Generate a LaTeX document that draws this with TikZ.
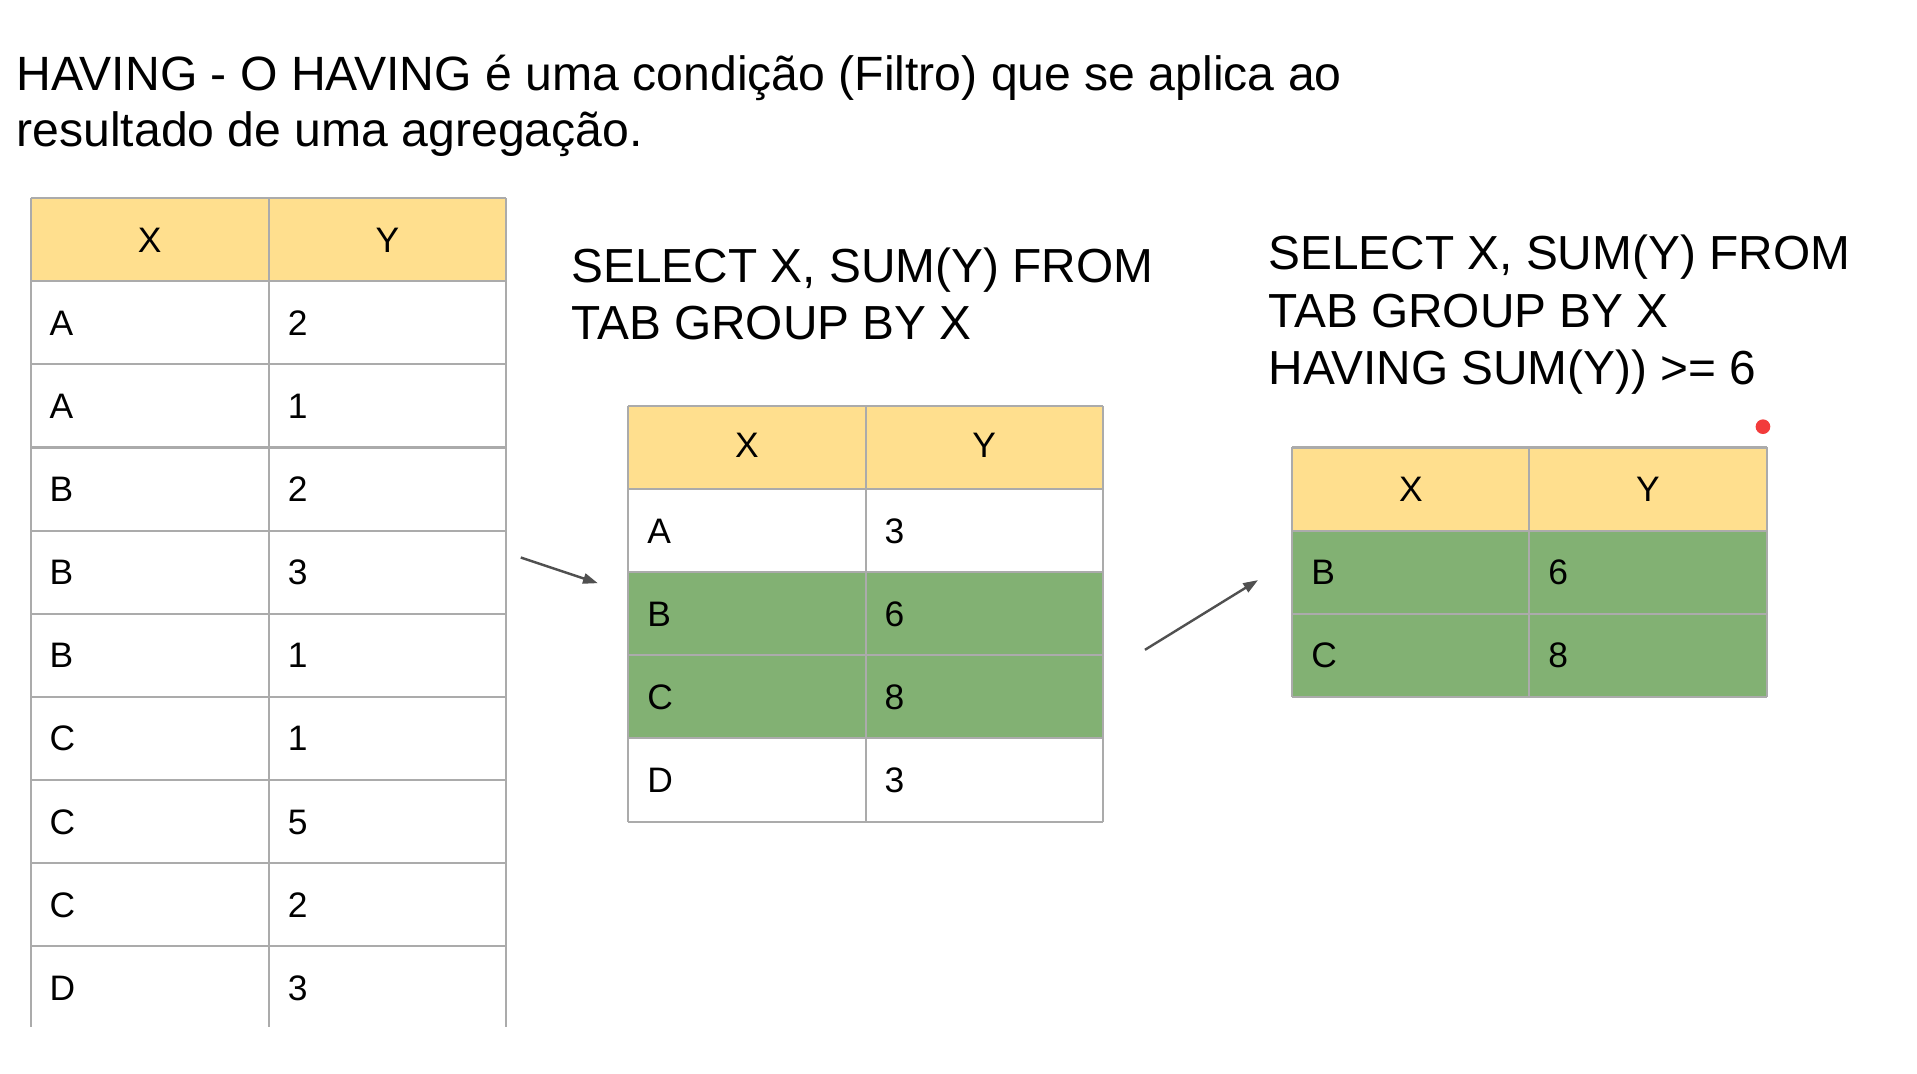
\documentclass[tikz,border=0pt]{standalone}
\usepackage{fontspec}
\setmainfont{Liberation Sans}
\usetikzlibrary{arrows.meta}

\definecolor{headyellow}{HTML}{FFDF8E}
\definecolor{rowgreen}{HTML}{82B173}
\definecolor{gridgray}{HTML}{ABABAB}
\definecolor{arrowgray}{HTML}{505050}
\definecolor{dotred}{HTML}{F23B3B}

\tikzset{
  titleline/.style={anchor=base west, inner sep=0pt, font=\fontsize{14}{17}\selectfont},
  sqlline/.style={anchor=base west, inner sep=0pt, font=\fontsize{13.9}{16}\selectfont},
  cell/.style={anchor=base west, inner sep=0pt, font=\fontsize{10.3}{12}\selectfont},
  headcell/.style={anchor=base, inner sep=0pt, font=\fontsize{10.3}{12}\selectfont},
  grid/.style={draw=gridgray, line width=0.6pt},
  flow/.style={draw=arrowgray, line width=0.7pt, -{Triangle[length=4.3pt,width=3pt]}}
}

\begin{document}
\begin{tikzpicture}[x=0.0125cm, y=-0.0125cm]
\useasboundingbox (0,0) rectangle (1568,878);

\node[titleline] (title1) at (13,74.4) {HAVING - O HAVING é uma condição (Filtro) que se aplica ao};
\node[titleline] (title2) at (13,120.2) {resultado de uma agregação.};

\node[sqlline] (grp1) at (467,230.7) {SELECT X, SUM(Y) FROM};
\node[sqlline] (grp2) at (467,277.3) {TAB GROUP BY X};

\node[sqlline] (hav1) at (1037,220.8) {SELECT X, SUM(Y) FROM};
\node[sqlline] (hav2) at (1037,267.8) {TAB GROUP BY X};
\node[sqlline] (hav3) at (1037,314.8) {HAVING SUM(Y)) >= 6};

% tabela original
\fill[headyellow] (25,162) rectangle (414,230);
\node[headcell] (tabx) at (122.5,206.2) {X};
\node[headcell] (taby) at (317,206.2) {Y};
\foreach \x/\y [count=\i] in {A/2,A/1,B/2,B/3,B/1,C/1,C/5,C/2,D/3} {
\node[cell] (tabx\i) at (40,{206.2+68*\i}) {\x};
\node[cell] (taby\i) at (235,{206.2+68*\i}) {\y};
}
\foreach \r in {0,...,9} {
\draw[grid] (25,{162+68*\r}) -- (414,{162+68*\r});
}
\foreach \c in {25,220,414} {
\draw[grid] (\c,162) -- (\c,840);
}

% group by
\fill[headyellow] (514,332) rectangle (902,400);
\fill[rowgreen] (514,468) rectangle (902,604);
\node[headcell] (grpx) at (611,374.2) {X};
\node[headcell] (grpy) at (805,374.2) {Y};
\foreach \x/\y [count=\i] in {A/3,B/6,C/8,D/3} {
\node[cell] (grpx\i) at (529,{376.2+68*\i}) {\x};
\node[cell] (grpy\i) at (723,{376.2+68*\i}) {\y};
}
\foreach \r in {0,...,5} {
\draw[grid] (514,{332+68*\r}) -- (902,{332+68*\r});
}
\foreach \c in {514,708,902} {
\draw[grid] (\c,332) -- (\c,672);
}

% having
\fill[headyellow] (1057,366) rectangle (1445,434);
\fill[rowgreen] (1057,434) rectangle (1445,570);
\node[headcell] (havx) at (1154,410.2) {X};
\node[headcell] (havy) at (1348,410.2) {Y};
\foreach \x/\y [count=\i] in {B/6,C/8} {
\node[cell] (havx\i) at (1072,{410.2+68*\i}) {\x};
\node[cell] (havy\i) at (1266,{410.2+68*\i}) {\y};
}
\foreach \r in {0,...,3} {
\draw[grid] (1057,{366+68*\r}) -- (1445,{366+68*\r});
}
\foreach \c in {1057,1251,1445} {
\draw[grid] (\c,366) -- (\c,570);
}

\fill[dotred] (1442,349) circle (6);

\coordinate (inA) at (426,456);
\coordinate (inB) at (489,477);
\coordinate (outA) at (936.5,531.5);
\coordinate (outB) at (1029,474.5);
\draw[flow] (inA) -- (inB);
\draw[flow] (outA) -- (outB);

\end{tikzpicture}
\end{document}
